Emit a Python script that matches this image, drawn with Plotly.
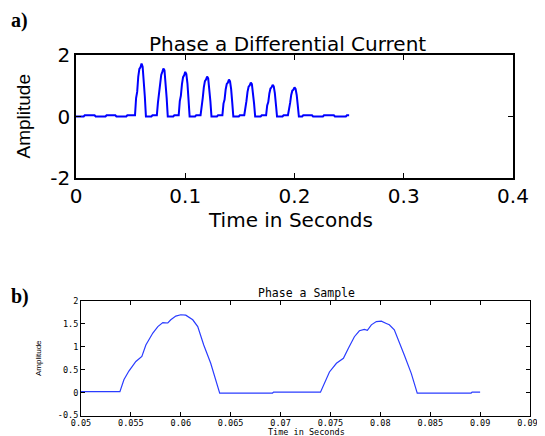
import plotly.graph_objects as go

# ---- panel a) : Phase a Differential Current ----
top_time = [
    0.000, 0.007, 0.008, 0.017, 0.018, 0.027, 0.028, 0.036, 0.037, 0.046, 0.047, 0.054,
    0.055, 0.056, 0.057, 0.058, 0.059, 0.060, 0.061, 0.062, 0.063, 0.064,
    0.069, 0.070, 0.074,
    0.075, 0.076, 0.077, 0.078, 0.079, 0.080, 0.081, 0.082, 0.083, 0.084,
    0.089, 0.090, 0.094,
    0.095, 0.096, 0.097, 0.098, 0.099, 0.100, 0.101, 0.102, 0.103, 0.104,
    0.109, 0.110, 0.114,
    0.115, 0.116, 0.117, 0.118, 0.119, 0.120, 0.121, 0.122, 0.123, 0.124,
    0.129, 0.130, 0.134,
    0.135, 0.136, 0.137, 0.138, 0.139, 0.140, 0.141, 0.142, 0.143, 0.144,
    0.149, 0.150, 0.154,
    0.155, 0.156, 0.157, 0.158, 0.159, 0.160, 0.161, 0.162, 0.163, 0.164,
    0.169, 0.170, 0.174,
    0.175, 0.176, 0.177, 0.178, 0.179, 0.180, 0.181, 0.182, 0.183, 0.184,
    0.189, 0.190, 0.194,
    0.195, 0.196, 0.197, 0.198, 0.199, 0.200, 0.201, 0.202, 0.203, 0.204,
    0.207, 0.208, 0.216, 0.217, 0.226, 0.227, 0.236, 0.237, 0.247, 0.248, 0.250,
]
top_amp = [
    0.00, 0.00, 0.04, 0.04, 0.00, 0.00, 0.04, 0.04, 0.00, 0.00, 0.04, 0.04,
    0.60, 0.80, 1.30, 1.55, 1.60, 1.72, 1.62, 1.25, 0.65, 0.00,
    0.00, 0.04, 0.04,
    0.45, 0.72, 1.10, 1.35, 1.45, 1.56, 1.50, 1.15, 0.60, 0.00,
    0.00, 0.04, 0.04,
    0.50, 0.68, 1.05, 1.28, 1.34, 1.45, 1.38, 1.08, 0.55, 0.00,
    0.00, 0.04, 0.04,
    0.45, 0.60, 0.95, 1.15, 1.20, 1.30, 1.24, 0.96, 0.50, 0.00,
    0.00, 0.04, 0.04,
    0.42, 0.55, 0.88, 1.06, 1.10, 1.20, 1.14, 0.89, 0.46, 0.00,
    0.00, 0.04, 0.04,
    0.38, 0.50, 0.80, 0.97, 1.01, 1.10, 1.05, 0.81, 0.42, 0.00,
    0.00, 0.04, 0.04,
    0.36, 0.47, 0.75, 0.91, 0.95, 1.03, 0.98, 0.76, 0.39, 0.00,
    0.00, 0.04, 0.04,
    0.33, 0.44, 0.70, 0.84, 0.87, 0.95, 0.90, 0.70, 0.36, 0.00,
    0.00, 0.04, 0.04, 0.00, 0.00, 0.04, 0.04, 0.00, 0.00, 0.04, 0.04,
]
top_xticks = [0, 0.1, 0.2, 0.3, 0.4]
top_xlabels = ["0", "0.1", "0.2", "0.3", "0.4"]
top_yticks = [-2, 0, 2]
top_ylabels = ["-2", "0", "2"]

# ---- panel b) : Phase a Sample ----
bot_time = [
    0.0500, 0.0539, 0.0543, 0.0548, 0.0555, 0.0561, 0.0565, 0.0572, 0.0577, 0.0582,
    0.0587, 0.0590, 0.0595, 0.0600, 0.0605, 0.0612, 0.0617, 0.0623, 0.0630, 0.0635,
    0.0639, 0.0692, 0.0693, 0.0740, 0.0744, 0.0749, 0.0756, 0.0763, 0.0768, 0.0774,
    0.0779, 0.0784, 0.0787, 0.0791, 0.0796, 0.0801, 0.0806, 0.0809, 0.0814, 0.0819,
    0.0824, 0.0831, 0.0837, 0.0891, 0.0892, 0.0900,
]
bot_amp = [
    0.02, 0.02, 0.28, 0.47, 0.68, 0.79, 1.04, 1.30, 1.44, 1.53,
    1.52, 1.59, 1.67, 1.70, 1.69, 1.59, 1.44, 1.04, 0.64, 0.28,
    -0.01, -0.01, 0.01, 0.01, 0.20, 0.45, 0.64, 0.75, 0.97, 1.22,
    1.35, 1.38, 1.36, 1.48, 1.55, 1.56, 1.51, 1.48, 1.37, 1.11,
    0.82, 0.42, -0.01, -0.01, 0.01, 0.01,
]
bot_xticks = [0.05, 0.055, 0.06, 0.065, 0.07, 0.075, 0.08, 0.085, 0.09, 0.095]
bot_xlabels = ["0.05", "0.055", "0.06", "0.065", "0.07", "0.075", "0.08", "0.085", "0.09", "0.095"]
bot_yticks = [-0.5, 0, 0.5, 1, 1.5, 2]
bot_ylabels = ["-0.5", "0", "0.5", "1", "1.5", "2"]

# The page body keeps an 8px default margin, so the figure is drawn 8px in.
OFF = 8
W, H = 545 - OFF, 436 - OFF
def px(x):
    return (x - OFF) / W
def py(y):
    return 1 - (y - OFF) / H

BIG = "DejaVu Sans"
SMALL = "DejaVu Sans Mono"

fig = go.Figure()
fig.add_trace(go.Scatter(x=top_time, y=top_amp, mode="lines",
                         line=dict(color="#0000ff", width=2), xaxis="x", yaxis="y",
                         showlegend=False, hoverinfo="skip"))
fig.add_trace(go.Scatter(x=bot_time, y=bot_amp, mode="lines",
                         line=dict(color="#2a3cff", width=1.2), xaxis="x2", yaxis="y2",
                         showlegend=False, hoverinfo="skip"))

axis_common = dict(showline=True, linecolor="black", mirror="ticks", ticks="inside",
                   showgrid=False, zeroline=False, tickcolor="black", fixedrange=True,
                   automargin=False)

fig.update_layout(
    template="none",
    width=W, height=H, margin=dict(l=0, r=0, t=0, b=0, autoexpand=False),
    paper_bgcolor="white", plot_bgcolor="white",
    xaxis=dict(domain=[px(76), px(513)], range=[0, 0.4], anchor="y",
               tickvals=top_xticks, ticktext=top_xlabels, ticklen=5, linewidth=1.5,
               tickfont=dict(family=BIG, size=20, color="black"), ticklabelstandoff=-1,
               **axis_common),
    yaxis=dict(domain=[py(178), py(55)], range=[-2, 2], anchor="x",
               tickvals=top_yticks, ticktext=top_ylabels, ticklen=5, linewidth=1.5,
               tickfont=dict(family=BIG, size=20, color="black"), ticklabelstandoff=0,
               **axis_common),
    xaxis2=dict(domain=[px(81), px(530)], range=[0.05, 0.095], anchor="y2",
                tickvals=bot_xticks, ticktext=bot_xlabels, ticklen=4, linewidth=1,
                tickfont=dict(family=SMALL, size=8.5, color="black"), ticklabelstandoff=-1,
                **axis_common),
    yaxis2=dict(domain=[py(415.5), py(301)], range=[-0.5, 2], anchor="x2",
                tickvals=bot_yticks, ticktext=bot_ylabels, ticklen=4, linewidth=1,
                tickfont=dict(family=SMALL, size=8.5, color="black"), ticklabelstandoff=0,
                **axis_common),
)

ann = [
    dict(text="<b>a)</b>", x=px(9), y=py(20.5), xanchor="left", yanchor="middle",
         font=dict(family="Liberation Serif", size=20, color="black")),
    dict(text="<b>b)</b>", x=px(9), y=py(296), xanchor="left", yanchor="middle",
         font=dict(family="Liberation Serif", size=20, color="black")),
    dict(text="Phase a Differential Current", x=px(287), y=py(44), xanchor="center",
         yanchor="middle", font=dict(family=BIG, size=20, color="black")),
    dict(text="Time in Seconds", x=px(290), y=py(220), xanchor="center",
         yanchor="middle", font=dict(family=BIG, size=20, color="black")),
    dict(text="Amplitude", x=px(23), y=py(116.5), xanchor="center", yanchor="middle",
         textangle=-90, font=dict(family="Liberation Sans", size=19, color="black")),
    dict(text="Phase a Sample", x=px(306), y=py(293), xanchor="center",
         yanchor="middle", font=dict(family=SMALL, size=11.5, color="black")),
    dict(text="Time in Seconds", x=px(306), y=py(432), xanchor="center",
         yanchor="middle", font=dict(family=SMALL, size=8.5, color="black")),
    dict(text="Amplitude", x=px(38), y=py(358), xanchor="center", yanchor="middle",
         textangle=-90, font=dict(family="Liberation Sans", size=8, color="black")),
]
for a in ann:
    a.update(xref="paper", yref="paper", showarrow=False)
fig.update_layout(annotations=ann)

fig.write_html("out.html")
